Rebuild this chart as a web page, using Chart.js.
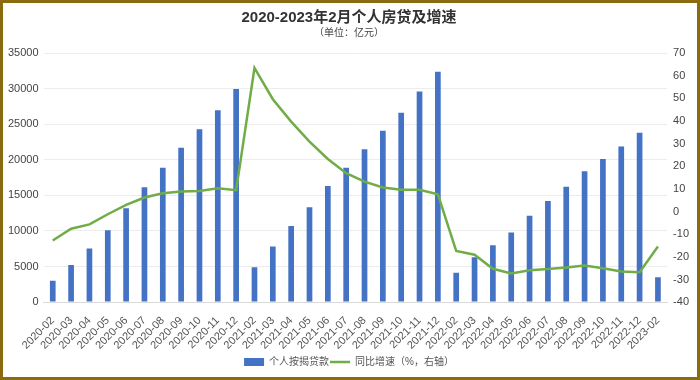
<!DOCTYPE html>
<html>
<head>
<meta charset="utf-8">
<script src="https://cdn.jsdelivr.net/npm/chart.js@4/dist/chart.umd.min.js"></script>
<style>
html,body{margin:0;padding:0;background:#fff;}
#wrap{position:relative;width:700px;height:380px;box-sizing:border-box;border:3px solid #8b6b10;background:#fff;}
#c{display:block;}
</style>
</head>
<body>
<div id="wrap"><canvas id="c" width="694" height="374"></canvas></div>
<script>
const categories = ["2020-02","2020-03","2020-04","2020-05","2020-06","2020-07","2020-08","2020-09","2020-10","2020-11","2020-12",
"2021-02","2021-03","2021-04","2021-05","2021-06","2021-07","2021-08","2021-09","2021-10","2021-11","2021-12",
"2022-02","2022-03","2022-04","2022-05","2022-06","2022-07","2022-08","2022-09","2022-10","2022-11","2022-12",
"2023-02"];
const loans = [3000,5200,7550,10100,13200,16150,18880,21700,24300,26970,29930,
4890,7800,10700,13340,16300,18880,21470,24060,26600,29600,32370,
4140,6300,7990,9780,12120,14190,16200,18370,20110,21850,23780,
3480];
const growth = [-12.8,-7.6,-5.7,-1.2,2.9,6.2,8.1,8.8,9.1,10.3,9.4,
63.4,49.6,39.7,30.9,23.2,16.9,13.2,10.6,9.6,9.6,7.6,
-17.4,-19.1,-25.3,-27.3,-25.9,-25.4,-24.7,-23.8,-25.0,-26.5,-26.8,
-15.4];
const leftTicks = {min:0, max:35000, step:5000};
const rightTicks = {min:-40, max:70, step:10};
const titleText = "2020-2023年2月个人房贷及增速";
const subtitleText = "（单位：亿元）";
const seriesNames = ["个人按揭贷款","同比增速（%，右轴）"];

const FF = "'Liberation Sans','Noto Sans CJK SC',sans-serif";
new Chart(document.getElementById('c'), {
  data: {
    labels: categories,
    datasets: [
      {type:'line', label: seriesNames[1], data: growth, yAxisID:'y1', borderColor:'#70ad47', backgroundColor:'#70ad47',
       borderWidth:2.5, pointRadius:0, tension:0, pointStyle:'line', order:0},
      {type:'bar', label: seriesNames[0], data: loans, yAxisID:'y', backgroundColor:'#4472c4', borderWidth:0,
       barPercentage:0.31, categoryPercentage:1, pointStyle:'rect', order:1}
    ]
  },
  options: {
    responsive:false, animation:false,
    layout:{padding:{left:0,right:2,top:0,bottom:0}},
    plugins:{
      title:{display:true, text:titleText, color:'#333', font:{family:FF,size:15,weight:'bold'}, padding:{top:6,bottom:0}},
      subtitle:{display:true, text:subtitleText, color:'#444', font:{family:FF,size:10}, padding:{bottom:14}},
      legend:{position:'bottom', reverse:true, labels:{usePointStyle:true, pointStyleWidth:20, boxHeight:8, color:'#555',
        font:{family:FF,size:10}, padding:1}},
      tooltip:{enabled:false}
    },
    scales:{
      x:{grid:{display:false}, border:{color:'#d9d9d9'}, ticks:{color:'#555', font:{family:FF,size:11}, maxRotation:45, minRotation:45, autoSkip:false, padding:4}},
      y:{position:'left', min:leftTicks.min, max:leftTicks.max, ticks:{stepSize:leftTicks.step, color:'#444', font:{family:FF,size:11}, padding:5, callback:v=>String(v)},
         grid:{color:'#ececec', drawTicks:false}, border:{display:false}},
      y1:{position:'right', min:rightTicks.min, max:rightTicks.max, ticks:{stepSize:rightTicks.step, color:'#444', font:{family:FF,size:11}, padding:6, callback:v=>String(v)},
         grid:{drawOnChartArea:false, drawTicks:false}, border:{display:false}}
    }
  }
});
</script>
</body>
</html>
